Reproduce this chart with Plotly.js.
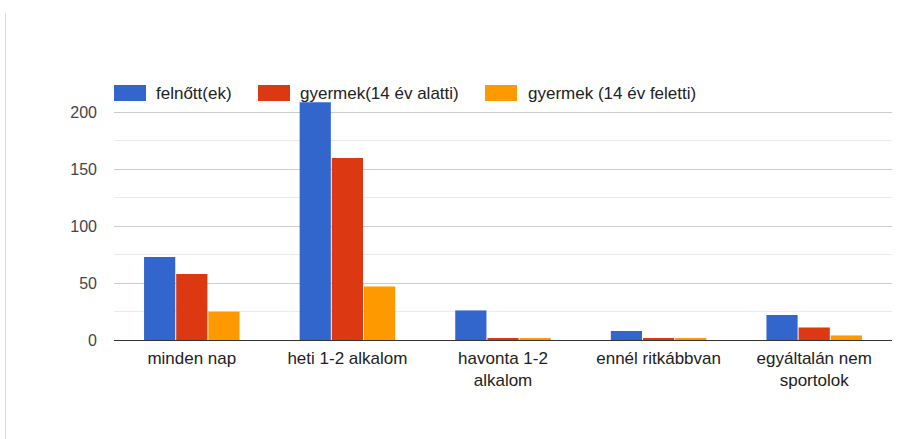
<!DOCTYPE html>
<html>
<head>
<meta charset="utf-8">
<script src="https://cdn.plot.ly/plotly-3.0.1.min.js"></script>
<style>
  html, body { margin: 0; padding: 0; background: #fff; }
  #chart { width: 899px; height: 439px; }
  #edge { position: absolute; left: 5px; top: 13px; width: 1px; height: 426px; background: #d9d9d9; }
</style>
</head>
<body>
<div id="edge"></div>
<div id="chart"></div>
<script>
const categories = ["minden nap", "heti 1-2 alkalom", "havonta 1-2<br>alkalom", "ennél ritkábbvan", "egyáltalán nem<br>sportolok"];
const seriesNames = ["felnőtt(ek)", "gyermek(14 év alatti)", "gyermek (14 év feletti)"];
const adults = [73, 209, 26, 8, 22];
const childrenUnder14 = [58, 160, 1, 1, 11];
const childrenOver14 = [25, 47, 1, 1, 4];
const colors = ["#3366cc", "#dc3912", "#ff9900"];
const yTicks = [0, 50, 100, 150, 200];

const values = [adults, childrenUnder14, childrenOver14];
const traces = values.map((v, i) => ({
  type: "bar",
  name: seriesNames[i],
  x: categories,
  y: v,
  marker: { color: colors[i] },
  hoverinfo: "x+y+name",
  showlegend: false
}));

// plot area geometry (pixels)
const W = 899, H = 439;
const M = { l: 114, r: 7, t: 84, b: 99 };
const pw = W - M.l - M.r, ph = H - M.t - M.b;
const px = x => (x - M.l) / pw;
const py = y => (H - M.b - y) / ph;

// custom legend (large swatches like the original)
const legendSwatchX = [114, 258, 485];
const legendTextX = [154, 298, 526];
const shapes = [];
const annotations = [];
seriesNames.forEach((n, i) => {
  shapes.push({
    type: "rect", xref: "paper", yref: "paper",
    x0: px(legendSwatchX[i]), x1: px(legendSwatchX[i] + 32),
    y0: py(101), y1: py(85),
    fillcolor: colors[i], line: { width: 0 }, layer: "above"
  });
  annotations.push({
    xref: "paper", yref: "paper",
    x: px(legendTextX[i]), y: py(93),
    xanchor: "left", yanchor: "middle",
    text: n, showarrow: false,
    font: { size: 17, color: "#222" }
  });
});

const layout = {
  width: W,
  height: H,
  margin: M,
  paper_bgcolor: "rgba(0,0,0,0)",
  plot_bgcolor: "rgba(0,0,0,0)",
  font: { family: "Liberation Sans, Arial, sans-serif", size: 17, color: "#222" },
  barmode: "group",
  bargap: 0.38,
  bargroupgap: 0.03,
  showlegend: false,
  shapes: shapes,
  annotations: annotations,
  xaxis: {
    type: "category",
    showgrid: false,
    showline: false,
    ticks: "",
    ticklabelstandoff: 6,
    tickfont: { size: 17, color: "#222" }
  },
  yaxis: {
    range: [0, 225],
    tickvals: yTicks,
    ticktext: yTicks.map(String),
    showgrid: true,
    gridcolor: "#cccccc",
    gridwidth: 1,
    minor: { tickvals: [25, 75, 125, 175, 225], showgrid: true, gridcolor: "#ebebeb", gridwidth: 1 },
    zeroline: true,
    zerolinecolor: "#333333",
    zerolinewidth: 1,
    ticks: "",
    ticklabelstandoff: 16,
    tickfont: { size: 16, color: "#444" },
    fixedrange: true
  }
};

Plotly.newPlot("chart", traces, layout, { displayModeBar: false });
</script>
</body>
</html>
